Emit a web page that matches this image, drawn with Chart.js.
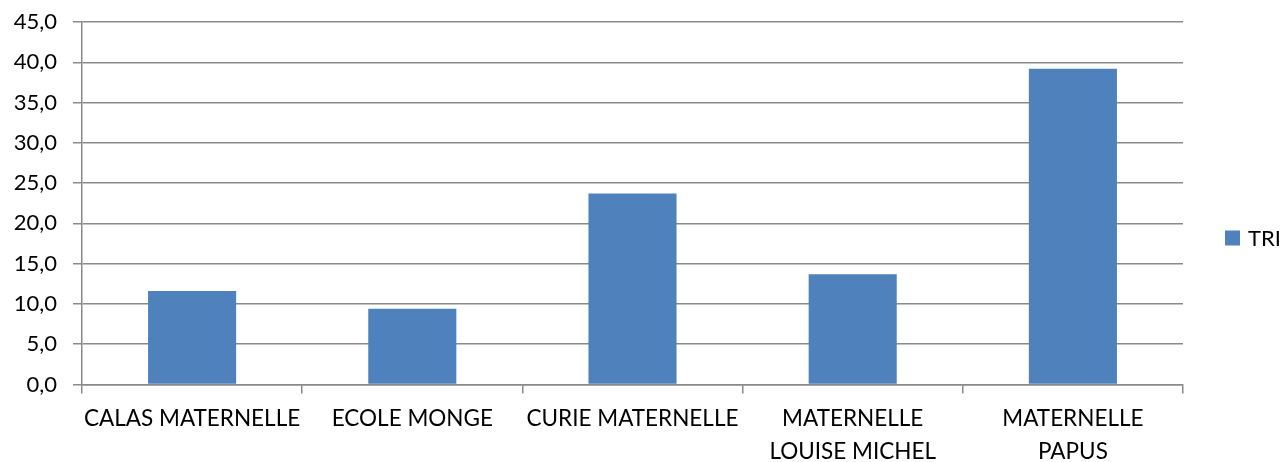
<!DOCTYPE html>
<html>
<head>
<meta charset="utf-8">
<script src="https://cdn.jsdelivr.net/npm/chart.js@4/dist/chart.umd.min.js"></script>
<style>
  html, body { margin: 0; padding: 0; background: #fff; }
  #wrap { width: 1281px; height: 462px; }
</style>
</head>
<body>
<div id="wrap"><canvas id="chartTri" width="1281" height="462"></canvas></div>
<script>
// Data
const schools = [
    "CALAS MATERNELLE",
    "ECOLE MONGE",
    "CURIE MATERNELLE",
    ["MATERNELLE", "LOUISE MICHEL"],
    ["MATERNELLE", "PAPUS"]
];
const triValues = [11.6, 9.4, 23.7, 13.7, 39.2];
const seriesName = "TRI";

const axisMin = 0;
const axisMax = 45;
const axisStep = 5;

const barColor = "#4f81bd";
const gridColor = "#8a8a8a";
const fontFamily = "Lato, 'Open Sans', sans-serif";

// Simple legend drawn at the right, like the original sheet
const sideLegend = {
    id: "sideLegend",
    afterDraw(chart) {
        const ctx = chart.ctx;
        const area = chart.chartArea;
        const ds = chart.data.datasets[0];
        const x = area.right + 42;
        const y = 238;
        ctx.save();
        ctx.fillStyle = ds.backgroundColor;
        ctx.fillRect(x, y - 7.5, 15, 15);
        ctx.fillStyle = "#000";
        ctx.font = "22px " + fontFamily;
        ctx.textBaseline = "middle";
        ctx.textAlign = "left";
        ctx.fillText(ds.label, x + 23, y + 1);
        ctx.restore();
    }
};

const ctx = document.getElementById("chartTri").getContext("2d");
new Chart(ctx, {
    type: "bar",
    data: {
        labels: schools,
        datasets: [{
            label: seriesName,
            data: triValues,
            backgroundColor: barColor,
            borderWidth: 0,
            categoryPercentage: 1.0,
            barPercentage: 0.4
        }]
    },
    options: {
        responsive: false,
        animation: false,
        layout: { padding: { top: 22, right: 98, left: 0, bottom: 0 } },
        plugins: {
            legend: { display: false },
            tooltip: { enabled: false }
        },
        scales: {
            x: {
                afterFit: (scale) => { scale.height = 77.5; },
                grid: {
                    offset: true,
                    drawOnChartArea: false,
                    drawTicks: true,
                    tickLength: 9,
                    color: gridColor,
                    lineWidth: 1.5
                },
                border: { color: gridColor, width: 1.5 },
                ticks: {
                    color: "#000",
                    padding: 9,
                    maxRotation: 0,
                    autoSkip: false,
                    font: { family: fontFamily, size: 22.5, lineHeight: 1.45 }
                }
            },
            y: {
                min: axisMin,
                max: axisMax,
                afterFit: (scale) => {
                    scale.width = 82;
                    // label overhang is handled by the layout padding
                    scale.paddingTop = 0;
                    scale.paddingBottom = 0;
                },
                grid: {
                    color: gridColor,
                    lineWidth: 1.5,
                    tickLength: 9
                },
                border: { color: gridColor, width: 1.5 },
                ticks: {
                    stepSize: axisStep,
                    color: "#000",
                    padding: 16,
                    font: { family: fontFamily, size: 22 },
                    callback: (v) => v.toFixed(1).replace(".", ",")
                }
            }
        }
    },
    plugins: [sideLegend]
});
</script>
</body>
</html>
